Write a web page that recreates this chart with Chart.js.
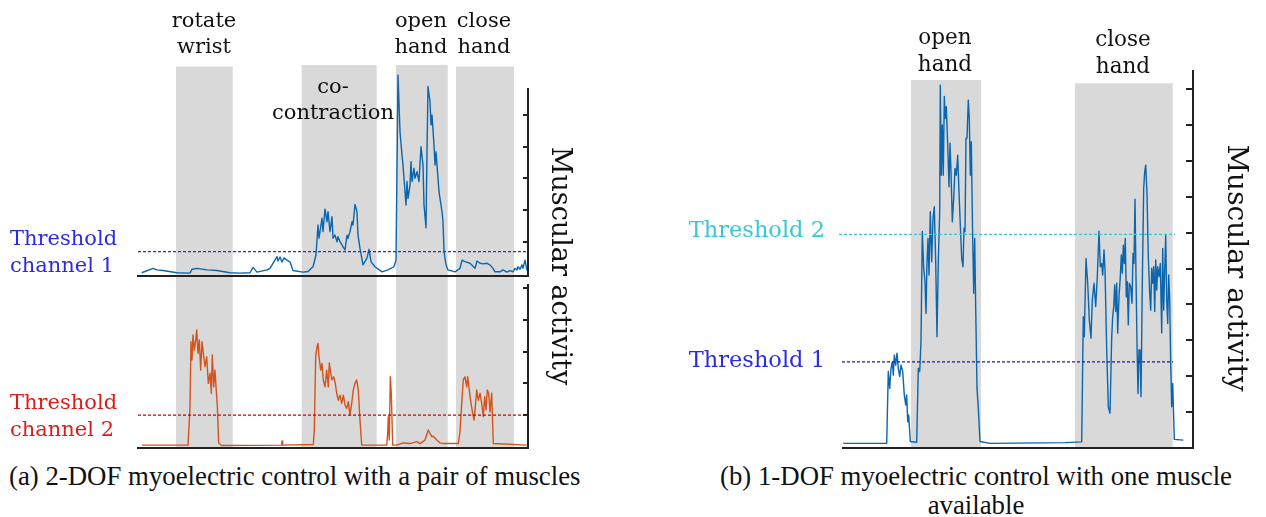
<!DOCTYPE html>
<html>
<head>
<meta charset="utf-8">
<script src="https://cdn.jsdelivr.net/npm/chart.js@4.4.1/dist/chart.umd.min.js"></script>
<style>
  body { margin: 0; width: 1266px; height: 517px; background: #fff; position: relative; overflow: hidden; font-family: "DejaVu Serif", serif; color: #111; }
  canvas { position: absolute; }
  .lbl { position: absolute; font-size: 21px; line-height: 26px; text-align: center; white-space: nowrap; transform: translateX(-50%); }
  .lblB { font-size: 21.5px; line-height: 27px; }
  .thr { position: absolute; font-size: 21px; line-height: 27px; white-space: nowrap; }
  .thrB { font-size: 22.5px; }
  .axisTitle { position: absolute; font-size: 27px; writing-mode: vertical-rl; white-space: nowrap; transform: translate(-50%, -50%); }
  .caption { position: absolute; font-family: "Liberation Serif", serif; font-size: 26.8px; line-height: 29px; white-space: nowrap; }
</style>
</head>
<body>
<canvas id="pairTop" width="560" height="280" style="left:0;top:0"></canvas>
<canvas id="pairBottom" width="560" height="170" style="left:0;top:280px"></canvas>
<canvas id="single" width="620" height="460" style="left:640px;top:0"></canvas>

<div class="lbl" style="left:204px;top:7px">rotate<br>wrist</div>
<div class="lbl" style="left:333px;top:73px">co-<br>contraction</div>
<div class="lbl" style="left:421px;top:7px">open<br>hand</div>
<div class="lbl" style="left:484px;top:7px">close<br>hand</div>
<div class="thr" style="left:10px;top:225px;color:#2b2be0">Threshold<br>channel 1</div>
<div class="thr" style="left:10px;top:389px;color:#e01b1b">Threshold<br>channel 2</div>
<div class="axisTitle" style="left:561px;top:266px">Muscular activity</div>

<div class="lbl lblB" style="left:945px;top:23px">open<br>hand</div>
<div class="lbl lblB" style="left:1123px;top:25px">close<br>hand</div>
<div class="thr thrB" style="right:441px;top:216px;color:#36c8d4">Threshold 2</div>
<div class="thr thrB" style="right:441px;top:346px;color:#2b2be0">Threshold 1</div>
<div class="axisTitle" style="left:1237px;top:268px;font-size:28px">Muscular activity</div>

<div class="caption" style="left:9px;top:462px">(a) 2-DOF myoelectric control with a pair of muscles</div>
<div class="caption" style="left:976px;top:462px;transform:translateX(-50%);text-align:center">(b) 1-DOF myoelectric control with one muscle<br>available</div>

<script>
// channel 1 envelope, pair of muscles (sample index, activation)
const pairTime1 = [3.7, 15, 19, 25, 39, 52, 54, 59, 69, 79, 92, 102, 112, 115, 119, 129, 132, 139, 140, 142, 144, 146, 149, 152, 155, 165,
  170, 175, 178, 180, 181, 184, 185, 187, 189, 190, 192, 194, 195, 197, 199, 200, 202, 204, 205, 207, 209, 210, 212, 214, 215, 217, 219, 220,
  222, 225, 229, 231, 233, 237, 244, 250, 256, 258, 260, 262, 264, 265, 266, 268, 269, 270, 272, 273, 274, 276, 277, 279, 281, 283, 285, 286,
  288, 289, 290, 292, 293, 294, 296, 297, 298, 300, 301, 302, 304, 305, 306, 308, 310, 317, 322, 324, 327, 332, 337, 339, 342, 345, 349, 352,
  355, 357, 362, 365, 369, 372, 375, 377, 379, 380, 382, 384, 385, 387, 389];
const pairLevel1 = [0.02, 0.16, 0.11, 0.09, 0.02, 0.01, 0.13, 0.16, 0.11, 0.09, 0.02, 0.01, 0.02, 0.19, 0.04, 0.11, 0.16, 0.53, 0.39, 0.52, 0.36, 0.49, 0.42, 0.36, 0.09, 0.04,
  0.06, 0.21, 0.58, 1.53, 1.11, 1.74, 1.32, 2.03, 1.63, 1.95, 1.32, 1.79, 1.11, 1.21, 1.0, 1.16, 1.0, 0.9, 0.84, 0.74, 1.21, 1.11, 1.32, 1.63, 1.53, 2.18, 1.95, 1.21,
  0.79, 0.27, 0.48, 0.76, 0.37, 0.21, 0.05, 0.11, 0.21, 0.42, 6.26, 4.47, 3.74, 3.42, 3.0, 2.16, 2.9, 2.37, 2.79, 3.53, 2.9, 3.32, 3.0, 3.21, 2.9, 4.0, 3.42, 2.16,
  1.44, 3.84, 5.9, 5.42, 4.69, 5.0, 4.05, 3.42, 3.84, 3.0, 2.58, 2.37, 1.95, 1.63, 0.69, 0.27, 0.11, 0.05, 0.16, 0.42, 0.37, 0.32, 0.16, 0.39, 0.32, 0.3, 0.32, 0.27,
  0.16, 0.05, 0.05, 0.11, 0.04, 0.09, 0.05, 0.16, 0.11, 0.21, 0.13, 0.27, 0.16, 0.42, 0.09];

// channel 2 envelope, pair of muscles
const pairTime2 = [3.7, 50, 52, 53, 54, 55, 56.3, 57.7, 58.7, 60, 61.3, 62.7, 64, 65.3, 67, 68.7, 70.3, 72, 73.3, 74.3, 75.7, 77, 78, 79.3, 80.7, 83.7,
  143.7, 144, 144.7, 175.3, 176.3, 177.7, 179, 180, 181, 182.7, 184, 185.3, 187, 188.7, 190.3, 191.3, 192.7, 194, 195.7, 197.3, 198.7, 200.3, 202,
  203.7, 205.3, 207, 208.7, 210.3, 212, 213.7, 215.3, 217, 218.7, 220.3, 222, 223.7, 248.7, 249.7, 250.3, 251.3, 252.3, 253.3, 254.7, 258.7, 265.3,
  272, 278.7, 282, 287, 290.3, 292, 293.7, 295.3, 298.7, 302, 305.3, 320.3, 322, 323.7, 325.3, 327, 328.7, 329.7, 331.3, 333, 334.7, 336, 337.3,
  338.7, 340.3, 342, 343.7, 345.3, 346.7, 348, 349.3, 350.7, 352, 353.7, 355.3, 388.7];
const pairLevel2 = [0.05, 0.05, 1.26, 3.32, 2.74, 3.53, 3.05, 3.37, 3.69, 2.95, 3.37, 2.42, 3.32, 2.95, 2.53, 2.84, 2.0, 2.32, 1.69, 2.9, 1.89, 2.42, 1.89, 1.32, 0.11, 0.04,
  0.05, 0.18, 0.05, 0.07, 0.53, 2.84, 3.16, 3.26, 2.84, 2.42, 2.63, 2.11, 1.89, 2.42, 1.89, 2.65, 2.32, 2.11, 2.21, 2.0, 1.69, 1.47, 1.63,
  1.37, 1.63, 1.32, 1.21, 1.42, 1.0, 1.37, 1.79, 2.0, 2.11, 1.79, 0.84, 0.05, 0.05, 0.42, 0.95, 0.21, 2.21, 1.69, 0.05, 0.05, 0.12,
  0.1, 0.16, 0.1, 0.21, 0.53, 0.42, 0.32, 0.33, 0.21, 0.12, 0.1, 0.1, 0.47, 1.37, 2.11, 2.21, 1.89, 2.21, 1.79, 1.37, 1.05, 0.84, 1.26,
  1.79, 1.47, 1.69, 1.37, 0.95, 1.58, 1.16, 1.79, 1.69, 1.1, 1.69, 0.1, 0.05];

// single muscle envelope
const singleTime = [0.3, 43.7, 45.3, 46.7, 48, 49.3, 50.3, 51.3, 52.7, 54, 55.3, 56.7, 58, 59.7, 61.3, 62.7, 63.7, 64.7, 65.7, 67.3, 73.7, 75.3,
  76.7, 78, 79.3, 80.7, 82, 83, 84, 85, 86, 87.3, 88.7, 90, 91.3, 92.7, 94, 95.3, 96.7, 97.3, 98.3, 99.3, 100.3, 101.3, 102.3, 103.3, 104.7,
  106, 107, 108, 109.3, 110.7, 112, 113.3, 114.7, 116, 117.3, 118.7, 120, 121, 122, 123, 124, 125.3, 126.3, 127.3, 128.3, 129.7, 130.7, 131.7,
  132.7, 134, 135.3, 137, 147, 222, 238.7, 240.3, 241.3, 243, 244.7, 246.3, 248, 249.3, 251, 252.7, 254.3, 256, 257.3, 258.7, 259.7, 261, 262,
  263.7, 265.3, 267, 268.7, 269.7, 270.7, 271.7, 272.7, 273.7, 274.7, 276, 277.3, 278.3, 279.3, 280.3, 281.3, 282.3, 283.3, 284.3, 285.3, 286.3,
  287.7, 289, 290, 291, 292, 293, 294, 295, 296, 297, 298, 299.3, 300.7, 301.7, 302.7, 304, 305.3, 306.7, 307.7, 308.7, 309.7, 310.7, 311.7,
  312.7, 313.7, 314.7, 316, 317.3, 318.7, 319.7, 320.7, 321.7, 322.7, 323.7, 324.7, 325.7, 326.7, 327.7, 328.7, 329.7, 331.3, 340.3];
const singleLevel = [0.13, 0.13, 2.13, 1.66, 2.22, 2.4, 2.03, 2.59, 2.31, 2.64, 2.22, 1.99, 2.31, 2.13, 1.48, 1.2, 1.48, 0.73, 0.92, 0.18, 0.16, 2.22,
  2.13, 2.96, 6.03, 5.01, 4.63, 3.75, 5.19, 5.84, 4.82, 6.58, 5.19, 6.4, 6.72, 5.19, 3.1, 5.19, 6.58, 10.11, 7.6, 9.0, 7.6, 9.79, 9.18, 9.51, 8.44,
  7.28, 8.49, 7.7, 6.3, 6.96, 7.79, 7.6, 8.16, 7.14, 6.21, 5.28, 5.05, 6.12, 6.03, 8.63, 8.63, 9.69, 9.18, 7.6, 8.53, 5.84, 4.31, 5.84,
  3.89, 1.66, 1.11, 0.18, 0.13, 0.15, 0.17, 3.66, 3.1, 5.28, 4.59, 3.57, 3.06, 4.12, 4.59, 3.94, 4.77, 6.04, 5.05, 5.14, 4.82, 5.52, 4.96,
  2.73, 1.15, 0.97, 3.1, 3.66, 3.94, 4.54, 3.8, 4.59, 3.2, 4.21, 4.77, 5.38, 4.87, 5.65, 5.14, 5.84, 4.21, 4.63, 3.43, 4.59,
  4.49, 4.03, 5.42, 5.14, 6.93, 4.77, 2.92, 1.52, 2.73, 2.73, 1.43, 4.59, 7.23, 7.7, 7.88, 7.09, 5.33, 4.31, 3.84, 5.01, 4.59, 5.05, 3.8,
  5.24, 4.4, 5.05, 4.77, 5.14, 3.21, 5.56, 3.84, 4.96, 5.93, 4.12, 3.47, 4.82, 4.12, 2.36, 1.15, 1.8, 0.24, 0.22];

// movement windows [start, end] and the level the shading reaches
const pairWindows = [[38, 94.7], [163.7, 238.7], [258, 309.7], [318, 376]];
const pairWindowTops = [6.53, 6.58, 6.58, 6.53];
const singleWindows = [[68, 138], [232, 329.7]];
const singleWindowTops = [10.25, 10.16];

// thresholds: level and horizontal extent
const pairThreshold1 = 0.685, pairThreshold1Span = [0, 389];
const pairThreshold2 = 1.0, pairThreshold2Span = [0, 389];
const singleThreshold1 = 2.4, singleThreshold1Span = [-1, 330];
const singleThreshold2 = 5.95, singleThreshold2Span = [-4, 332];

const pairTicks = [1, 2, 3, 4, 5];
const singleTicks = [1, 2, 3, 4, 5, 6, 7, 8, 9, 10];

const zip = (xs, ys) => xs.map((x, i) => ({ x: x, y: ys[i] }));

function shading(windows, tops, fromCanvasTop, toCanvasBottom) {
  return {
    id: 'shading',
    beforeDatasetsDraw(chart) {
      const { ctx, chartArea, scales: { x, y } } = chart;
      ctx.save();
      ctx.fillStyle = '#d9d9d9';
      windows.forEach(([a, b], i) => {
        const left = x.getPixelForValue(a);
        const right = x.getPixelForValue(b);
        const top = fromCanvasTop ? 0 : y.getPixelForValue(tops[i]);
        const bottom = toCanvasBottom ? chart.height : chartArea.bottom;
        ctx.fillRect(left, top, right - left, bottom - top);
      });
      ctx.restore();
    }
  };
}

function frame(ticks, tickLen) {
  return {
    id: 'frame',
    afterDatasetsDraw(chart) {
      const { ctx, chartArea: area, scales: { y } } = chart;
      ctx.save();
      ctx.strokeStyle = '#222';
      ctx.lineWidth = 2;
      ctx.beginPath();
      ctx.moveTo(area.left - 1, area.bottom);
      ctx.lineTo(area.right + 1, area.bottom);
      ctx.moveTo(area.right, area.top);
      ctx.lineTo(area.right, area.bottom);
      ticks.forEach(v => {
        const py = Math.round(y.getPixelForValue(v));
        ctx.moveTo(area.right, py);
        ctx.lineTo(area.right - tickLen, py);
      });
      ctx.stroke();
      ctx.restore();
    }
  };
}

function thresholdSet(level, span, color) {
  return {
    data: [{ x: span[0], y: level }, { x: span[1], y: level }],
    borderColor: color, borderWidth: 1.3, borderDash: [3, 2], clip: false
  };
}

function signalSet(xs, ys, color) {
  return { data: zip(xs, ys), borderColor: color, borderWidth: 1.4, clip: false };
}

function draw(id, datasets, xMax, yMin, yMax, padding, plugins) {
  return new Chart(document.getElementById(id), {
    type: 'line',
    data: { datasets: datasets },
    options: {
      responsive: false,
      animation: false,
      events: [],
      layout: { padding: padding },
      scales: {
        x: { type: 'linear', display: false, min: 0, max: xMax },
        y: { type: 'linear', display: false, min: yMin, max: yMax }
      },
      elements: { point: { radius: 0 }, line: { tension: 0, borderJoinStyle: 'round' } },
      plugins: { legend: { display: false }, tooltip: { enabled: false } }
    },
    plugins: plugins
  });
}

// (a) upper channel
draw('pairTop', [
  thresholdSet(pairThreshold1, pairThreshold1Span, '#2a2ad0'),
  signalSet(pairTime1, pairLevel1, '#0b66ad')
], 390, -0.082, 5.854, { left: 138, right: 32, top: 88, bottom: 4 },
  [shading(pairWindows, pairWindowTops, false, true), frame(pairTicks, 5)]);

// (a) lower channel
draw('pairBottom', [
  thresholdSet(pairThreshold2, pairThreshold2Span, '#c80000'),
  signalSet(pairTime2, pairLevel2, '#d4531c')
], 390, -0.04, 5.14, { left: 138, right: 32, top: 4, bottom: 2 },
  [shading(pairWindows, pairWindowTops, true, false), frame(pairTicks, 5)]);

// (b) single muscle
draw('single', [
  thresholdSet(singleThreshold2, singleThreshold2Span, '#33cccc'),
  thresholdSet(singleThreshold1, singleThreshold1Span, '#1c1cb0'),
  signalSet(singleTime, singleLevel, '#0b66ad')
], 350, 0, 10.53, { left: 203, right: 67, top: 70, bottom: 12 },
  [shading(singleWindows, singleWindowTops, false, false), frame(singleTicks, 7)]);
</script>
</body>
</html>
